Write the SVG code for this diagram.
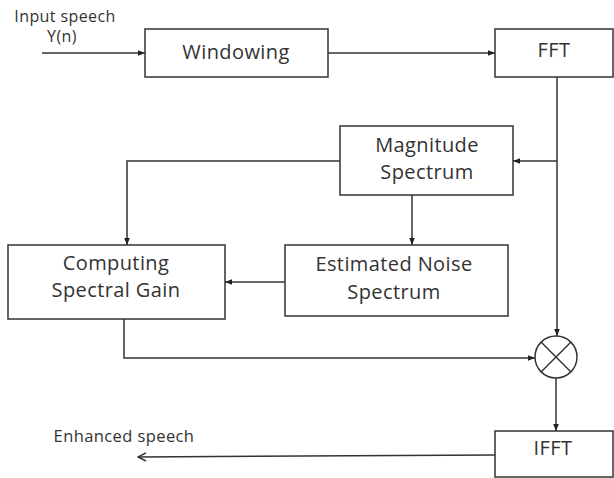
<svg xmlns="http://www.w3.org/2000/svg" width="614" height="478" viewBox="0 0 614 478">
<defs>
<style>
.box{fill:#fff;stroke:#333;stroke-width:1.5}
.lbl{font-family:"Open Sans",Lato,sans-serif;font-size:20px;letter-spacing:0.4px;fill:#333;text-anchor:middle}
.sm{font-family:"Open Sans",Lato,sans-serif;font-size:16px;letter-spacing:0.4px;fill:#333;text-anchor:middle}
.ln{fill:none;stroke:#333;stroke-width:1.5}
</style>
<marker id="ah" viewBox="0 0 10 10" refX="10" refY="5" markerWidth="7" markerHeight="7" orient="auto" markerUnits="userSpaceOnUse">
<path d="M0,1 L10,5 L0,9 z" fill="#222"/>
</marker>
<marker id="oh" viewBox="0 0 10 10" refX="9" refY="5" markerWidth="10" markerHeight="10" orient="auto" markerUnits="userSpaceOnUse">
<path d="M1,1 L9,5 L1,9" fill="none" stroke="#333" stroke-width="1.5"/>
</marker>
</defs>
<rect width="614" height="478" fill="#fff"/>
<g id="connectors">
<line class="ln" x1="42" y1="53" x2="145" y2="53" marker-end="url(#ah)"/>
<line class="ln" x1="328" y1="53" x2="495" y2="53" marker-end="url(#ah)"/>
<line class="ln" x1="557" y1="77" x2="557" y2="336" marker-end="url(#ah)"/>
<line class="ln" x1="557" y1="161" x2="513" y2="161" marker-end="url(#ah)"/>
<polyline class="ln" points="340,161 127,161 127,245" marker-end="url(#ah)"/>
<line class="ln" x1="412" y1="195" x2="412" y2="245" marker-end="url(#ah)"/>
<line class="ln" x1="285" y1="282" x2="225" y2="282" marker-end="url(#ah)"/>
<polyline class="ln" points="124,319 124,358 535,358" marker-end="url(#ah)"/>
<line class="ln" x1="556" y1="378" x2="556" y2="431" marker-end="url(#ah)"/>
<line class="ln" x1="495" y1="455" x2="138" y2="457" marker-end="url(#oh)"/>
</g>
<g id="input-label">
<text class="sm" x="65" y="22">Input speech</text>
<text class="sm" x="62" y="42">Y(n)</text>
</g>
<g id="windowing">
<rect class="box" x="145" y="29" width="183" height="48"/>
<text class="lbl" x="236" y="59">Windowing</text>
</g>
<g id="fft">
<rect class="box" x="495" y="29" width="118" height="48"/>
<text class="lbl" x="554" y="57">FFT</text>
</g>
<g id="magnitude">
<rect class="box" x="340" y="126" width="173" height="69"/>
<text class="lbl" x="427" y="152">Magnitude</text>
<text class="lbl" x="427" y="179">Spectrum</text>
</g>
<g id="noise">
<rect class="box" x="285" y="245" width="223" height="71"/>
<text class="lbl" x="394" y="271">Estimated Noise</text>
<text class="lbl" x="394" y="299">Spectrum</text>
</g>
<g id="gain">
<rect class="box" x="8" y="245" width="217" height="74"/>
<text class="lbl" x="116" y="270">Computing</text>
<text class="lbl" x="116" y="297">Spectral Gain</text>
</g>
<g id="multiplier">
<circle class="ln" cx="556" cy="357" r="21"/>
<line class="ln" x1="541" y1="342" x2="571" y2="372"/>
<line class="ln" x1="571" y1="342" x2="541" y2="372"/>
</g>
<g id="ifft">
<rect class="box" x="495" y="431" width="118" height="46"/>
<text class="lbl" x="553" y="455">IFFT</text>
</g>
<g id="output-label">
<text class="sm" x="124" y="442" style="font-size:16.5px">Enhanced speech</text>
</g>
</svg>
